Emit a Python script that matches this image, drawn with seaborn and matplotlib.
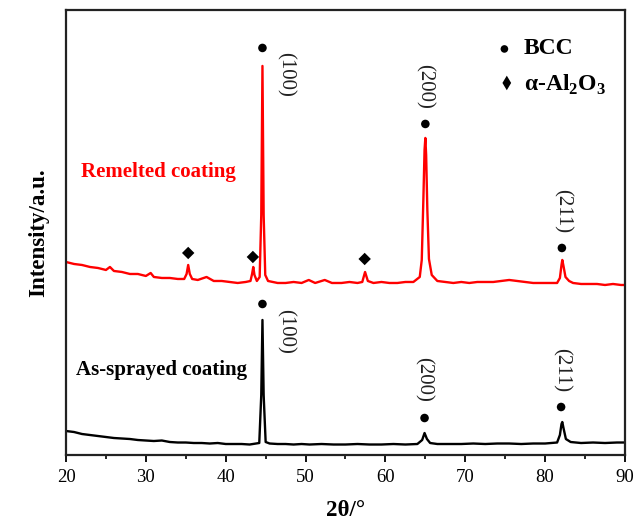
import pandas as pd
import matplotlib
matplotlib.use("Agg")
import matplotlib.pyplot as plt
import seaborn as sns

# XRD patterns (intensity in arbitrary units, offset stacked)
red_2theta = [20, 21, 22, 23, 24, 25, 25.5, 26, 27, 28, 29, 30, 30.6, 31, 32, 33, 34,
              34.8, 35.1, 35.3, 35.5, 35.8, 36.5, 37.6, 38.5, 39.5, 40.5, 41.5, 42.5,
              43.1, 43.3, 43.45, 43.6, 43.9, 44.25, 44.45, 44.6, 44.75, 44.95, 45.3,
              46.5, 47.5, 48.5, 49.5, 50.4, 51.2, 52.4, 53.3, 54.5, 55.5, 56.5, 57.1,
              57.45, 57.8, 58.5, 59.5, 60.5, 61.5, 62.5, 63.5, 64.3, 64.55, 64.75,
              64.9, 65.0, 65.1, 65.25, 65.45, 65.8, 66.5, 67.5, 68.5, 69.5, 70.5, 71.5,
              72.5, 73.5, 74.5, 75.5, 76.5, 77.5, 78.5, 79.5, 80.5, 81.5, 81.85, 82.05,
              82.15, 82.3, 82.55, 83.0, 83.5, 84.5, 85.5, 86.5, 87.5, 88.5, 89.5, 90]
red_intensity = [193, 191, 190, 188, 187, 185, 188, 184, 183, 181, 181, 179, 182, 178,
                 177, 177, 176, 176, 181, 190, 181, 176, 175, 178, 174, 174, 173, 172,
                 173, 174, 181, 188, 180, 174, 178, 240, 389, 240, 180, 174, 172, 172,
                 173, 172, 175, 172, 175, 172, 172, 173, 172, 173, 183, 174, 172, 173,
                 172, 172, 173, 173, 178, 195, 255, 305, 317, 300, 245, 196, 180, 174,
                 173, 172, 173, 172, 173, 173, 173, 174, 175, 174, 173, 172, 172, 172,
                 172, 177, 190, 195, 189, 178, 174, 172, 171, 171, 171, 170, 171, 170,
                 170]

black_2theta = [20, 21, 22, 23, 24, 25, 26, 27, 28, 29, 30, 31, 32, 33, 34, 35, 36, 37,
                38, 39, 40, 41, 42, 43, 44.2, 44.45, 44.6, 44.75, 45.0, 45.5, 46.5, 47.5,
                48.5, 49.5, 50.5, 52, 53.5, 55, 56.5, 58, 59.5, 61, 62.5, 64, 64.6, 64.9,
                65.2, 65.6, 66.5, 68, 69.5, 71, 72.5, 74, 75.5, 77, 78.5, 80, 81.5, 81.85,
                82.05, 82.15, 82.3, 82.6, 83.2, 84.5, 86, 87.5, 89, 90]
black_intensity = [24, 23, 21, 20, 19, 18, 17, 16.5, 16, 15, 14.5, 14, 14.5, 13, 12.5,
                   12.5, 12, 12, 11.5, 12, 11, 11, 11, 10.5, 12, 60, 135, 60, 13, 11.5,
                   11, 11, 10.5, 11, 10.5, 11, 10.5, 10.5, 11, 10.5, 10.5, 11, 10.5, 11,
                   15, 22, 16, 12, 11, 11, 11, 11.5, 11, 11.5, 11.5, 11, 11.5, 11.5,
                   12.5, 20, 31, 33, 27, 16, 13, 12, 12.5, 12, 12.5, 12.5]

# phase markers
bcc_red_x = [44.6, 65.0, 82.1]
bcc_red_y = [407, 331, 207]
bcc_black_x = [44.6, 64.9, 82.0]
bcc_black_y = [151, 37, 48]
al2o3_x = [35.3, 43.4, 57.4]
al2o3_y = [202, 198, 196]

# (hkl) labels
hkl_text = ["(100)", "(200)", "(211)", "(100)", "(200)", "(211)"]
hkl_x = [47.5, 64.9, 82.1, 47.5, 64.8, 82.0]
hkl_y = [381, 369, 244, 124, 76, 85]

sns.set_style("ticks")
plt.rcParams['font.family'] = ['Liberation Serif', 'DejaVu Serif']
plt.rcParams['mathtext.fontset'] = 'custom'
plt.rcParams['mathtext.rm'] = 'Liberation Serif:bold'
plt.rcParams['mathtext.bf'] = 'Liberation Serif:bold'
plt.rcParams['text.color'] = 'black'
plt.rcParams['axes.labelcolor'] = 'black'
plt.rcParams['xtick.color'] = 'black'

red_df = pd.DataFrame({"two_theta": red_2theta, "intensity": red_intensity})
black_df = pd.DataFrame({"two_theta": black_2theta, "intensity": black_intensity})

fig = plt.figure(figsize=(6.41, 5.23), dpi=100)
ax = fig.add_axes([0.103, 0.130, 0.872, 0.851])

sns.lineplot(data=red_df, x="two_theta", y="intensity", color="#ff0000",
             linewidth=1.7, estimator=None, ax=ax)
sns.lineplot(data=black_df, x="two_theta", y="intensity", color="black",
             linewidth=1.7, estimator=None, ax=ax)

sns.scatterplot(x=bcc_red_x + bcc_black_x, y=bcc_red_y + bcc_black_y, marker="o",
                color="black", s=38, edgecolor="none", ax=ax)
sns.scatterplot(x=al2o3_x, y=al2o3_y, marker="D", color="black", s=40,
                edgecolor="none", ax=ax)

for t, x, y in zip(hkl_text, hkl_x, hkl_y):
    ax.text(x, y, t, rotation=-90, ha="center", va="center", fontsize=15,
            color="#222222")

ax.text(21.9, 283, "Remelted coating", color="#ff0000", fontsize=15,
        fontweight="bold", ha="left", va="center")
ax.text(21.2, 85, "As-sprayed coating", color="black", fontsize=15,
        fontweight="bold", ha="left", va="center")

# legend drawn by hand like the original figure
ax.scatter([74.9], [406], marker="o", color="black", s=30, edgecolor="none")
ax.scatter([75.2], [372], marker="d", color="black", s=55, edgecolor="none")
ax.text(77.3, 406, "BCC", fontsize=17, fontweight="bold", ha="left", va="center")
ax.text(77.3, 370, r"α-Al$_2$O$_3$", fontsize=17, fontweight="bold",
        ha="left", va="center")

ax.set_xlim(20, 90)
ax.set_ylim(0, 445)
ax.set_xticks(range(20, 91, 10))
ax.set_xticks(range(25, 90, 10), minor=True)
ax.set_yticks([])
ax.tick_params(axis="x", which="major", direction="out", length=5, width=1.3,
               labelsize=13.5, pad=5)
ax.tick_params(axis="x", which="minor", direction="out", length=3, width=1.2)

for sp in ax.spines.values():
    sp.set_linewidth(1.6)
    sp.set_color("#222222")

ax.set_xlabel("2θ/°", fontsize=16.5, fontweight="bold", labelpad=10)
ax.set_ylabel("Intensity/a.u.", fontsize=16.5, fontweight="bold", labelpad=12)

fig.savefig("out.png", dpi=100)
